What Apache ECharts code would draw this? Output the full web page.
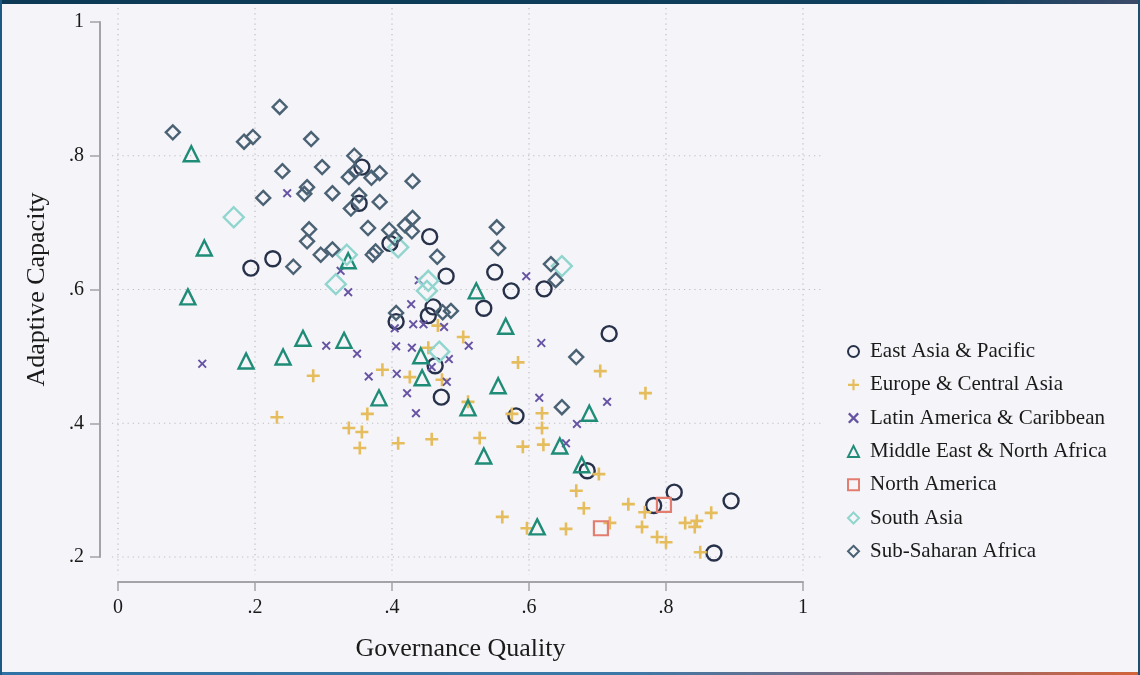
<!DOCTYPE html>
<html>
<head>
<meta charset="utf-8">
<script src="https://cdn.jsdelivr.net/npm/echarts@6/dist/echarts.min.js"></script>
<style>
  html, body { margin: 0; padding: 0; }
  body { width: 1140px; height: 675px; overflow: hidden; background: #f5f4f8; }
  #frame {
    position: absolute; left: 0; top: 0; width: 1140px; height: 675px;
    box-sizing: border-box; pointer-events: none;
    border-left: 2px solid #1b5a83; border-right: 2px solid #1b4f72;
  }
  #frame::before {
    content: ""; position: absolute; left: 0; right: 0; top: 0; height: 4px;
    background: linear-gradient(90deg, #0c3a56 0%, #0f3f5e 85%, #3c4a6a 100%);
  }
  #frame::after {
    content: ""; position: absolute; left: 0; right: 0; bottom: 0; height: 3px;
    background: linear-gradient(90deg, #2f73a6 0%, #3b78a8 55%, #8a6a7a 80%, #d2643a 100%);
  }
  #chart { position: absolute; left: 0; top: 0; width: 1140px; height: 675px; }
</style>
</head>
<body>
<div id="chart"></div>
<div id="frame"></div>
<script>
// Governance quality (x) vs adaptive capacity (y), one array of [x, y] per region
const regionNames = [
  'East Asia & Pacific',
  'Europe & Central Asia',
  'Latin America & Caribbean',
  'Middle East & North Africa',
  'North America',
  'South Asia',
  'Sub-Saharan Africa'
];

const eastAsiaPacific = [
  [0.194, 0.632], [0.226, 0.646], [0.356, 0.783], [0.352, 0.729], [0.397, 0.669],
  [0.455, 0.679], [0.479, 0.620], [0.550, 0.626], [0.534, 0.572], [0.574, 0.598],
  [0.622, 0.601], [0.717, 0.534], [0.460, 0.574], [0.453, 0.561], [0.406, 0.552],
  [0.463, 0.486], [0.472, 0.439], [0.581, 0.411], [0.685, 0.329], [0.782, 0.277],
  [0.812, 0.297], [0.895, 0.284], [0.870, 0.206]
];

const europeCentralAsia = [
  [0.285, 0.471], [0.232, 0.409], [0.386, 0.480], [0.364, 0.414], [0.337, 0.393],
  [0.356, 0.387], [0.353, 0.363], [0.409, 0.370], [0.504, 0.529], [0.453, 0.513],
  [0.426, 0.469], [0.473, 0.465], [0.584, 0.491], [0.511, 0.432], [0.575, 0.414],
  [0.458, 0.376], [0.528, 0.378], [0.591, 0.365], [0.619, 0.415], [0.619, 0.393],
  [0.621, 0.368], [0.704, 0.478], [0.770, 0.445], [0.702, 0.324], [0.669, 0.299],
  [0.680, 0.273], [0.745, 0.279], [0.769, 0.267], [0.718, 0.251], [0.597, 0.243],
  [0.654, 0.242], [0.765, 0.245], [0.787, 0.230], [0.800, 0.222], [0.828, 0.251],
  [0.845, 0.254], [0.842, 0.245], [0.866, 0.266], [0.832, 0.198], [0.839, 0.198],
  [0.850, 0.207], [0.872, 0.188], [0.561, 0.260], [0.467, 0.546]
];

const latinAmericaCaribbean = [
  [0.123, 0.489], [0.247, 0.744], [0.325, 0.628], [0.336, 0.596], [0.304, 0.516],
  [0.349, 0.504], [0.366, 0.470], [0.428, 0.578], [0.404, 0.542], [0.431, 0.548],
  [0.446, 0.548], [0.476, 0.544], [0.406, 0.515], [0.429, 0.513], [0.512, 0.516],
  [0.483, 0.496], [0.458, 0.484], [0.407, 0.474], [0.480, 0.462], [0.422, 0.445],
  [0.435, 0.415], [0.618, 0.520], [0.615, 0.438], [0.670, 0.399], [0.654, 0.370],
  [0.714, 0.432], [0.596, 0.620], [0.439, 0.614]
];

const middleEastNorthAfrica = [
  [0.107, 0.803], [0.126, 0.662], [0.102, 0.589], [0.187, 0.493], [0.241, 0.499],
  [0.270, 0.527], [0.330, 0.524], [0.381, 0.438], [0.336, 0.643], [0.523, 0.598],
  [0.566, 0.545], [0.442, 0.501], [0.444, 0.468], [0.555, 0.456], [0.511, 0.423],
  [0.534, 0.351], [0.688, 0.415], [0.645, 0.366], [0.677, 0.338], [0.612, 0.245]
];

const northAmerica = [
  [0.797, 0.278], [0.705, 0.243]
];

const southAsia = [
  [0.169, 0.708], [0.334, 0.652], [0.318, 0.608], [0.409, 0.663], [0.453, 0.613],
  [0.451, 0.598], [0.469, 0.507], [0.648, 0.635]
];

const subSaharanAfrica = [
  [0.080, 0.835], [0.184, 0.821], [0.197, 0.828], [0.236, 0.873], [0.282, 0.825],
  [0.240, 0.777], [0.298, 0.783], [0.212, 0.737], [0.276, 0.753], [0.272, 0.743],
  [0.313, 0.744], [0.345, 0.800], [0.337, 0.768], [0.346, 0.777], [0.352, 0.741],
  [0.340, 0.721], [0.370, 0.767], [0.382, 0.774], [0.382, 0.731], [0.430, 0.762],
  [0.279, 0.690], [0.276, 0.672], [0.256, 0.634], [0.296, 0.652], [0.313, 0.660],
  [0.365, 0.692], [0.372, 0.652], [0.376, 0.657], [0.396, 0.689], [0.404, 0.677],
  [0.419, 0.696], [0.430, 0.707], [0.429, 0.687], [0.466, 0.649], [0.553, 0.693],
  [0.555, 0.662], [0.406, 0.565], [0.474, 0.566], [0.486, 0.568], [0.632, 0.638],
  [0.639, 0.614], [0.669, 0.499], [0.648, 0.424]
];

// Axis ticks and dotted reference lines
const xTicks = [0, 0.2, 0.4, 0.6, 0.8, 1];
const yTicks = [0.2, 0.4, 0.6, 0.8, 1];
const xGridValues = [0, 0.2, 0.4, 0.6, 0.8, 1];
const yGridValues = [0.2, 0.4, 0.6, 0.8];

const FONT = '"Liberation Serif", "DejaVu Serif", serif';
const PLUS = 'path://M4,0H6V4H10V6H6V10H4V6H0V4H4Z';
const CROSS = 'path://M1.5,0L5,3.5L8.5,0L10,1.5L6.5,5L10,8.5L8.5,10L5,6.5L1.5,10L0,8.5L3.5,5L0,1.5Z';

function tickText(v) {
  const r = Math.round(v * 10) / 10;
  if (r === 0) return '0';
  if (r === 1) return '1';
  return r.toFixed(1).replace(/^0/, '');
}

function hollow(name, data, symbol, size, color, width) {
  return {
    name, type: 'scatter', data, symbol, symbolSize: size, z: 3,
    itemStyle: { color: 'rgba(0,0,0,0)', borderColor: color, borderWidth: width, opacity: 1 },
    emphasis: { disabled: true }
  };
}

function filled(name, data, symbol, size, color) {
  return {
    name, type: 'scatter', data, symbol, symbolSize: size, z: 3,
    itemStyle: { color, opacity: 1 },
    emphasis: { disabled: true }
  };
}

// Dotted grid lines drawn through the axis scales, running a little past the plot area
const gridLineStyle = { stroke: '#bdbdc4', lineWidth: 1.2, lineDash: [1.2, 4] };
const verticalGrid = {
  type: 'custom', silent: true, z: 1, clip: false,
  data: xGridValues.map(v => [v, 0.2]),
  renderItem: (params, api) => {
    const top = api.coord([api.value(0), 1]);
    const bot = api.coord([api.value(0), 0.2]);
    return { type: 'line', shape: { x1: top[0], y1: top[1] - 14, x2: bot[0], y2: bot[1] + 18 }, style: gridLineStyle };
  }
};
const horizontalGrid = {
  type: 'custom', silent: true, z: 1, clip: false,
  data: yGridValues.map(v => [0, v]),
  renderItem: (params, api) => {
    const l = api.coord([0, api.value(1)]);
    const r = api.coord([1, api.value(1)]);
    return { type: 'line', shape: { x1: l[0] - 6, y1: l[1], x2: r[0] + 19, y2: r[1] }, style: gridLineStyle };
  }
};

const axisColor = '#a3a3a8';

const chart = echarts.init(document.getElementById('chart'), null, { renderer: 'canvas' });
chart.setOption({
  backgroundColor: '#f5f4f8',
  animation: false,
  textStyle: { fontFamily: FONT },
  grid: { left: 118, right: 337, top: 22, bottom: 118 },
  xAxis: {
    type: 'value', min: 0, max: 1, interval: 0.2, offset: 25,
    name: 'Governance Quality', nameLocation: 'middle', nameGap: 54,
    nameTextStyle: { fontFamily: FONT, fontSize: 26, color: '#1a1a1a' },
    axisLine: { show: true, onZero: false, lineStyle: { color: axisColor, width: 2 } },
    axisTick: { show: true, length: 9, lineStyle: { color: axisColor, width: 1.5 } },
    axisLabel: { margin: 16, fontFamily: FONT, fontSize: 20, color: '#1a1a1a', formatter: tickText },
    splitLine: { show: false }
  },
  yAxis: {
    type: 'value', min: 0.2, max: 1, interval: 0.2, offset: 18,
    name: 'Adaptive Capacity', nameLocation: 'middle', nameGap: 50, nameRotate: 90,
    nameTextStyle: { fontFamily: FONT, fontSize: 26, color: '#1a1a1a' },
    axisLine: { show: true, onZero: false, lineStyle: { color: axisColor, width: 2 } },
    axisTick: { show: true, length: 10, lineStyle: { color: axisColor, width: 1.5 } },
    axisLabel: { margin: 16, fontFamily: FONT, fontSize: 20, color: '#1a1a1a', formatter: tickText },
    splitLine: { show: false }
  },
  legend: {
    orient: 'vertical', left: 842, top: 336,
    itemWidth: 11, itemHeight: 11, itemGap: 12.3,
    data: regionNames,
    textStyle: { fontFamily: FONT, fontSize: 21, color: '#1a1a1a', padding: [0, 0, 0, 6] },
    selectedMode: false
  },
  series: [
    verticalGrid,
    horizontalGrid,
    hollow(regionNames[0], eastAsiaPacific, 'circle', 15, '#27324a', 2.4),
    filled(regionNames[1], europeCentralAsia, PLUS, 13, '#e6bd5c'),
    filled(regionNames[2], latinAmericaCaribbean, CROSS, 9, '#6653a3'),
    hollow(regionNames[3], middleEastNorthAfrica, 'triangle', 15, '#1f8c77', 2.4),
    hollow(regionNames[4], northAmerica, 'rect', 14, '#e27d6f', 2.2),
    hollow(regionNames[5], southAsia, 'diamond', 20, '#90d5ce', 2.4),
    hollow(regionNames[6], subSaharanAfrica, 'diamond', 14, '#4a6274', 2.4)
  ]
});
</script>
</body>
</html>
